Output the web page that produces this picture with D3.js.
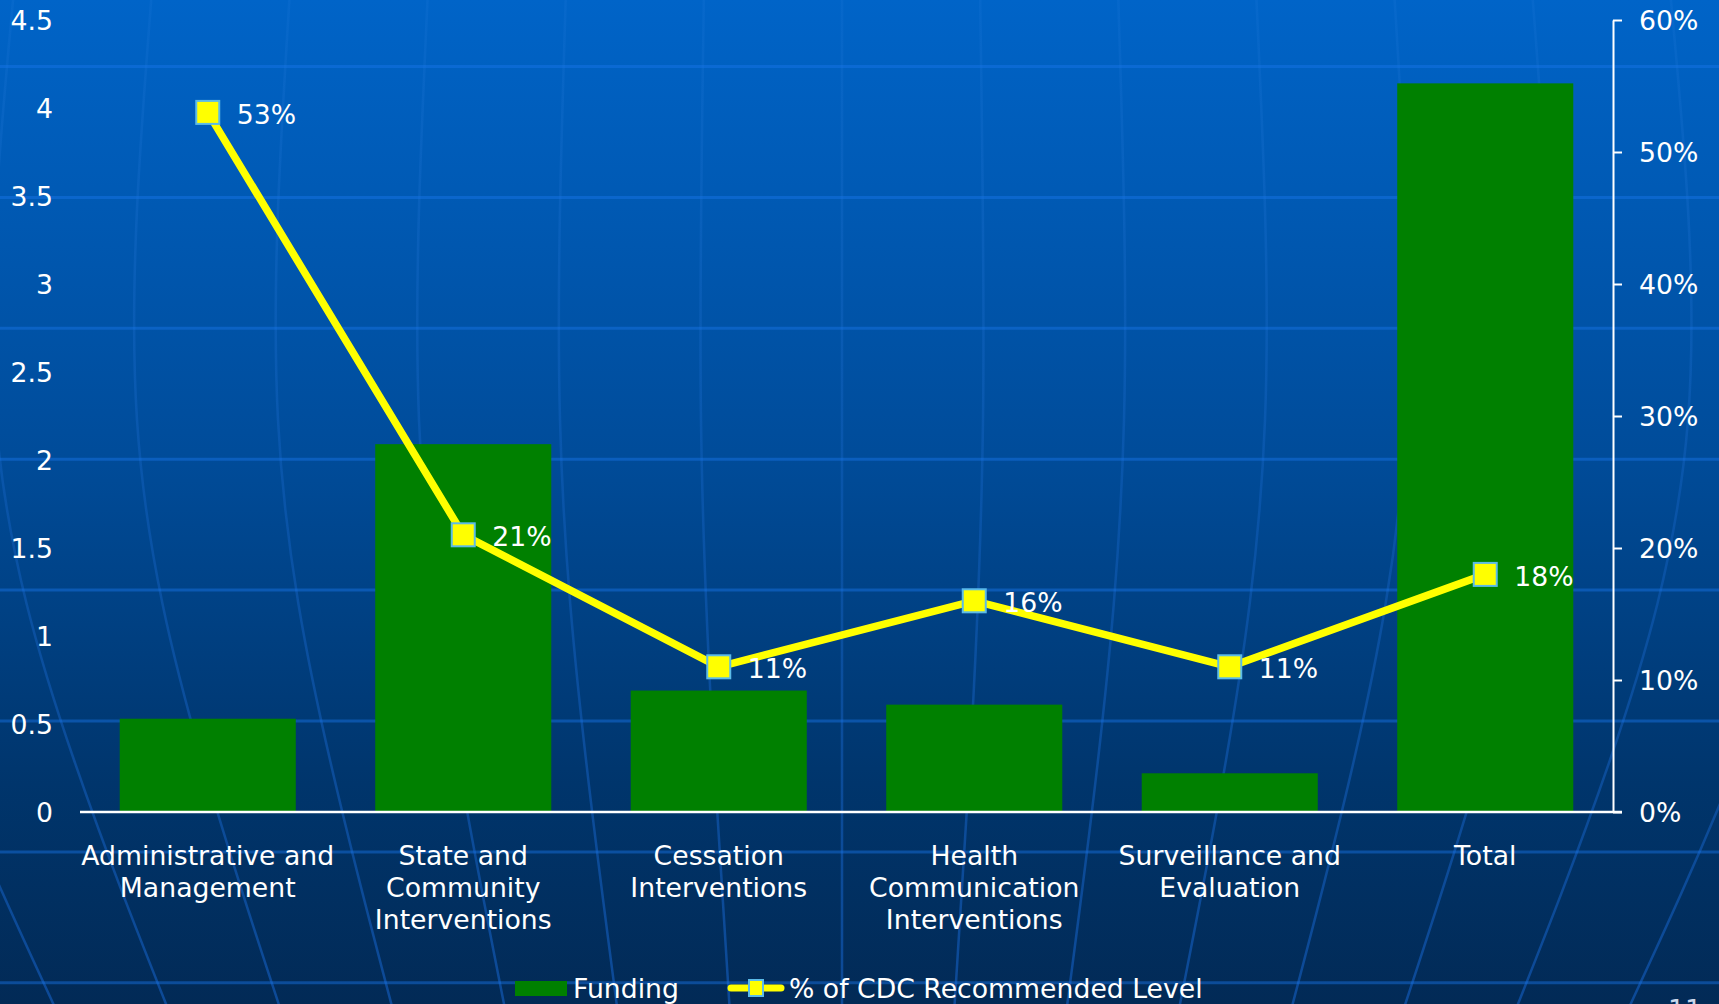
<!DOCTYPE html>
<html>
<head>
<meta charset="utf-8">
<script src="https://cdn.jsdelivr.net/npm/d3@7"></script>
<style>
  html, body { margin: 0; padding: 0; background: #022a56; overflow: hidden; }
  svg { display: block; }
  text { font-family: "DejaVu Sans", Verdana, sans-serif; fill: #ffffff; }
</style>
</head>
<body>
<svg id="chart" width="1719" height="1004"></svg>
<script>
// Program categories (line breaks mark wrapped axis labels)
const categories = [
  "Administrative and\nManagement",
  "State and\nCommunity\nInterventions",
  "Cessation\nInterventions",
  "Health\nCommunication\nInterventions",
  "Surveillance and\nEvaluation",
  "Total"
];
// Funding (left axis)
const funding = [0.53, 2.09, 0.69, 0.61, 0.22, 4.14];
// Share of CDC recommended level (right axis)
const pctCDC = [0.53, 0.21, 0.11, 0.16, 0.11, 0.18];
// Axis ticks
const leftTicks = [0, 0.5, 1, 1.5, 2, 2.5, 3, 3.5, 4, 4.5];
const rightTicks = [0, 0.1, 0.2, 0.3, 0.4, 0.5, 0.6];
const legendLabels = ["Funding", "% of CDC Recommended Level"];

const W = 1719, H = 1004;
const FS = 26.7;
const plot = { left: 80, right: 1613, top: 20, bottom: 812 };

const svg = d3.select("#chart");
const defs = svg.append("defs");

// ---- backdrop: blue gradient with a faint globe grid ----
const bg = defs.append("linearGradient").attr("id", "bg")
  .attr("x1", 0).attr("y1", 0).attr("x2", 0).attr("y2", 1);
bg.append("stop").attr("offset", 0).attr("stop-color", "#0064c8");
bg.append("stop").attr("offset", 0.45).attr("stop-color", "#004c9a");
bg.append("stop").attr("offset", 0.78).attr("stop-color", "#00356c");
bg.append("stop").attr("offset", 1).attr("stop-color", "#022a56");
svg.append("rect").attr("width", W).attr("height", H).attr("fill", "url(#bg)");

const mer = defs.append("linearGradient").attr("id", "mer")
  .attr("gradientUnits", "userSpaceOnUse")
  .attr("x1", 0).attr("y1", 0).attr("x2", 0).attr("y2", H);
mer.append("stop").attr("offset", 0).attr("stop-color", "rgba(60,140,235,0.1)");
mer.append("stop").attr("offset", 0.5).attr("stop-color", "rgba(30,110,215,0.3)");
mer.append("stop").attr("offset", 1).attr("stop-color", "rgba(20,95,195,0.6)");

const grid = svg.append("g").attr("class", "globe");
const meridian = d3.line().curve(d3.curveNatural);
const cx = 842;
for (let i = -7; i <= 7; i++) {
  const pts = [
    [cx + i * 138, -10],
    [cx + i * 141, 420],
    [cx + i * 128, 760],
    [cx + i * 112, H + 10]
  ];
  grid.append("path").attr("d", meridian(pts))
    .attr("fill", "none").attr("stroke", "url(#mer)").attr("stroke-width", 2.5);
}
for (let k = 0; k < 8; k++) {
  const y = 66.5 + k * 130.9;
  grid.append("line").attr("x1", 0).attr("x2", W).attr("y1", y).attr("y2", y)
    .attr("stroke", "rgba(25,118,232,0.45)").attr("stroke-width", 3);
}

// ---- scales ----
const x = d3.scaleBand().domain(categories)
  .range([plot.left, plot.right]).paddingInner(0.311).paddingOuter(0.1555);
const yL = d3.scaleLinear().domain([0, 4.5]).range([plot.bottom, plot.top]);
const yR = d3.scaleLinear().domain([0, 0.6]).range([plot.bottom, plot.top]);

// ---- bars ----
svg.append("g").selectAll("rect").data(funding).join("rect")
  .attr("x", (d, i) => x(categories[i]))
  .attr("width", x.bandwidth())
  .attr("y", d => yL(d))
  .attr("height", d => yL(0) - yL(d))
  .attr("fill", "#008000");

// ---- left axis (labels only) ----
const leftAxis = d3.axisLeft(yL).tickValues(leftTicks).tickSize(0).tickPadding(0)
  .tickFormat(d3.format("~g"));
const gL = svg.append("g").attr("transform", `translate(53,0)`).call(leftAxis);
gL.select(".domain").remove();
gL.selectAll("text").attr("font-size", FS).attr("fill", "#fff")
  .attr("font-family", "DejaVu Sans, sans-serif").attr("dy", "0.36em").attr("x", 0);

// ---- right axis ----
const rightAxis = d3.axisRight(yR).tickValues(rightTicks).tickSize(9).tickSizeOuter(0)
  .tickPadding(17).tickFormat(d3.format(".0%"));
const gR = svg.append("g").attr("transform", `translate(${plot.right},0)`).call(rightAxis);
gR.select(".domain").attr("stroke", "#fff").attr("stroke-width", 2);
gR.selectAll(".tick line").attr("stroke", "#fff").attr("stroke-width", 2);
gR.selectAll("text").attr("font-size", FS).attr("fill", "#fff")
  .attr("font-family", "DejaVu Sans, sans-serif").attr("dy", "0.36em");

// ---- category axis ----
const bottomAxis = d3.axisBottom(x).tickSize(0).tickFormat("");
const gB = svg.append("g").attr("transform", `translate(0,${plot.bottom})`).call(bottomAxis);
gB.select(".domain").attr("stroke", "#fff").attr("stroke-width", 2.5)
  .attr("d", `M${plot.left},0H${plot.right + 9}`);
gB.selectAll(".tick").each(function (d) {
  const t = d3.select(this).append("text")
    .attr("text-anchor", "middle").attr("font-size", FS).attr("fill", "#fff")
    .attr("y", 53);
  d.split("\n").forEach((line, j) => {
    t.append("tspan").attr("x", 0).attr("dy", j === 0 ? 0 : 32).text(line);
  });
});

// ---- % of CDC line ----
const cxOf = i => x(categories[i]) + x.bandwidth() / 2;
const line = d3.line().x((d, i) => cxOf(i)).y(d => yR(d));
svg.append("path").datum(pctCDC).attr("d", line)
  .attr("fill", "none").attr("stroke", "#ffff00").attr("stroke-width", 7.5)
  .attr("stroke-linejoin", "round");

const ms = 23;
svg.append("g").selectAll("rect").data(pctCDC).join("rect")
  .attr("x", (d, i) => cxOf(i) - ms / 2).attr("y", d => yR(d) - ms / 2)
  .attr("width", ms).attr("height", ms)
  .attr("fill", "#ffff00").attr("stroke", "#5bbbe8").attr("stroke-width", 2);

svg.append("g").selectAll("text").data(pctCDC).join("text")
  .attr("x", (d, i) => cxOf(i) + 29).attr("y", d => yR(d) + 1.5)
  .attr("dy", "0.36em").attr("font-size", FS)
  .text(d => d3.format(".0%")(d));

// ---- legend ----
const lg = svg.append("g");
lg.append("rect").attr("x", 515).attr("y", 981).attr("width", 52).attr("height", 15)
  .attr("fill", "#008000");
lg.append("text").attr("x", 573).attr("y", 998).attr("font-size", FS).text(legendLabels[0]);
lg.append("line").attr("x1", 731).attr("x2", 781).attr("y1", 988).attr("y2", 988)
  .attr("stroke", "#ffff00").attr("stroke-width", 7).attr("stroke-linecap", "round");
lg.append("rect").attr("x", 749).attr("y", 980).attr("width", 14).attr("height", 16)
  .attr("fill", "#ffff00").attr("stroke", "#5bbbe8").attr("stroke-width", 2);
lg.append("text").attr("x", 789).attr("y", 998).attr("font-size", FS).text(legendLabels[1]);

// slide number, mostly below the fold
svg.append("text").attr("x", 1668).attr("y", 1019).attr("font-size", FS)
  .style("fill", "#c9d6ea").text("11");
</script>
</body>
</html>
